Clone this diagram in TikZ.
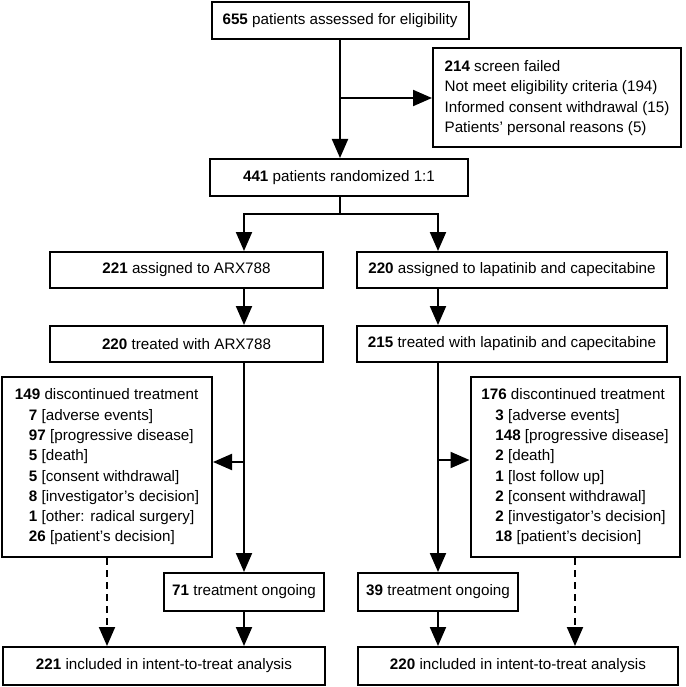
\documentclass[tikz,border=0pt]{standalone}
\usepackage{fontspec}
\setmainfont{Liberation Sans}
\usepackage{tikz}
\usetikzlibrary{
  positioning,
  arrows.meta,
  calc
}

\newcommand{\cause}[2]{\hspace*{14pt}\textbf{#1} #2}

\begin{document}
\begin{tikzpicture}[
  x=1pt, y=-1pt,
  font=\fontsize{15.2}{20.3}\selectfont,
  box/.style={
    rectangle,
    draw=black,
    line width=2pt,
    minimum height=37pt,
    inner sep=0pt,
    align=center
  },
  listbox/.style={
    rectangle,
    draw=black,
    line width=2pt,
    inner sep=0pt,
    align=left
  },
  arrow/.style={
    -{Triangle[length=19pt,width=16pt]},
    line width=2pt,
    draw=black
  },
  dashedarrow/.style={
    -{Triangle[length=19pt,width=16pt]},
    line width=2pt,
    dash pattern=on 7pt off 5pt,
    draw=black
  }
]
\fill[white] (0,0) rectangle (685,687);
\useasboundingbox (0,0) rectangle (685,687);

% Enrolment
\node[box, minimum width=257pt] (elig) at (340,20.5) {\textbf{655} patients assessed for eligibility};
\node[listbox, minimum width=248pt, minimum height=99pt] (screen) at (557,98) {\textbf{214} screen failed\\Not meet eligibility criteria (194)\\Informed consent withdrawal (15)\\Patients' personal reasons (5)};
\node[box, minimum width=258pt] (rand) at (339,177.5) {\textbf{441} patients randomized 1:1};

% Allocation
\node[box, minimum width=273pt, minimum height=36pt] (assignA) at (186.5,270) {\textbf{221} assigned to ARX788};
\node[box, minimum width=310pt, minimum height=36pt] (assignB) at (512,270) {\textbf{220} assigned to lapatinib and capecitabine};
\node[box, minimum width=273pt, minimum height=36pt] (treatA) at (186.5,344) {\textbf{220} treated with ARX788};
\node[box, minimum width=310pt, minimum height=36pt] (treatB) at (512,344) {\textbf{215} treated with lapatinib and capecitabine};

% Follow-up
\node[listbox, minimum width=210pt, minimum height=180pt] (discA) at (107,467) {\textbf{149} discontinued treatment\\
  \cause{7}{[adverse events]}\\
  \cause{97}{[progressive disease]}\\
  \cause{5}{[death]}\\
  \cause{5}{[consent withdrawal]}\\
  \cause{8}{[investigator's decision]}\\
  \cause{1}{[other: radical surgery]}\\
  \cause{26}{[patient's decision]}};
\node[listbox, minimum width=209pt, minimum height=180pt] (discB) at (575,467) {\textbf{176} discontinued treatment\\
  \cause{3}{[adverse events]}\\
  \cause{148}{[progressive disease]}\\
  \cause{2}{[death]}\\
  \cause{1}{[lost follow up]}\\
  \cause{2}{[consent withdrawal]}\\
  \cause{2}{[investigator's decision]}\\
  \cause{18}{[patient's decision]}};
\node[box, minimum width=160pt, minimum height=38pt] (ongoA) at (244,592) {\textbf{71} treatment ongoing};
\node[box, minimum width=160pt, minimum height=38pt] (ongoB) at (438,592) {\textbf{39} treatment ongoing};

% Analysis
\node[box, minimum width=322pt, minimum height=38pt] (ittA) at (164,666) {\textbf{221} included in intent-to-treat analysis};
\node[box, minimum width=320pt, minimum height=38pt] (ittB) at (518,666) {\textbf{220} included in intent-to-treat analysis};

% Main flow
\coordinate (split) at (340,214);
\coordinate (inA) at ([yshift=5pt]discA.east);
\coordinate (inB) at ([yshift=7pt]discB.west);
\draw[arrow] (elig.south) -- (rand.north -| elig);
\draw[arrow] (elig.south |- screen.west) -- (screen.west);
\draw[arrow] (rand.south -| split) -- (split) -| (assignA.north -| ongoA);
\draw[arrow] (split) -| (assignB.north -| ongoB);
\draw[arrow] (assignA.south -| ongoA) -- (treatA.north -| ongoA);
\draw[arrow] (assignB.south -| ongoB) -- (treatB.north -| ongoB);
\draw[arrow] (treatA.south -| ongoA) -- (ongoA.north);
\draw[arrow] (treatB.south -| ongoB) -- (ongoB.north);
\draw[arrow] (ongoA |- inA) -- (inA);
\draw[arrow] (ongoB |- inB) -- (inB);
\draw[arrow] (ongoA.south) -- (ongoA.south |- ittA.north);
\draw[arrow] (ongoB.south) -- (ongoB.south |- ittB.north);

% Discontinued patients still analysed
\draw[dashedarrow] (discA.south) -- (discA.south |- ittA.north);
\draw[dashedarrow] (discB.south) -- (discB.south |- ittB.north);

\end{tikzpicture}
\end{document}
